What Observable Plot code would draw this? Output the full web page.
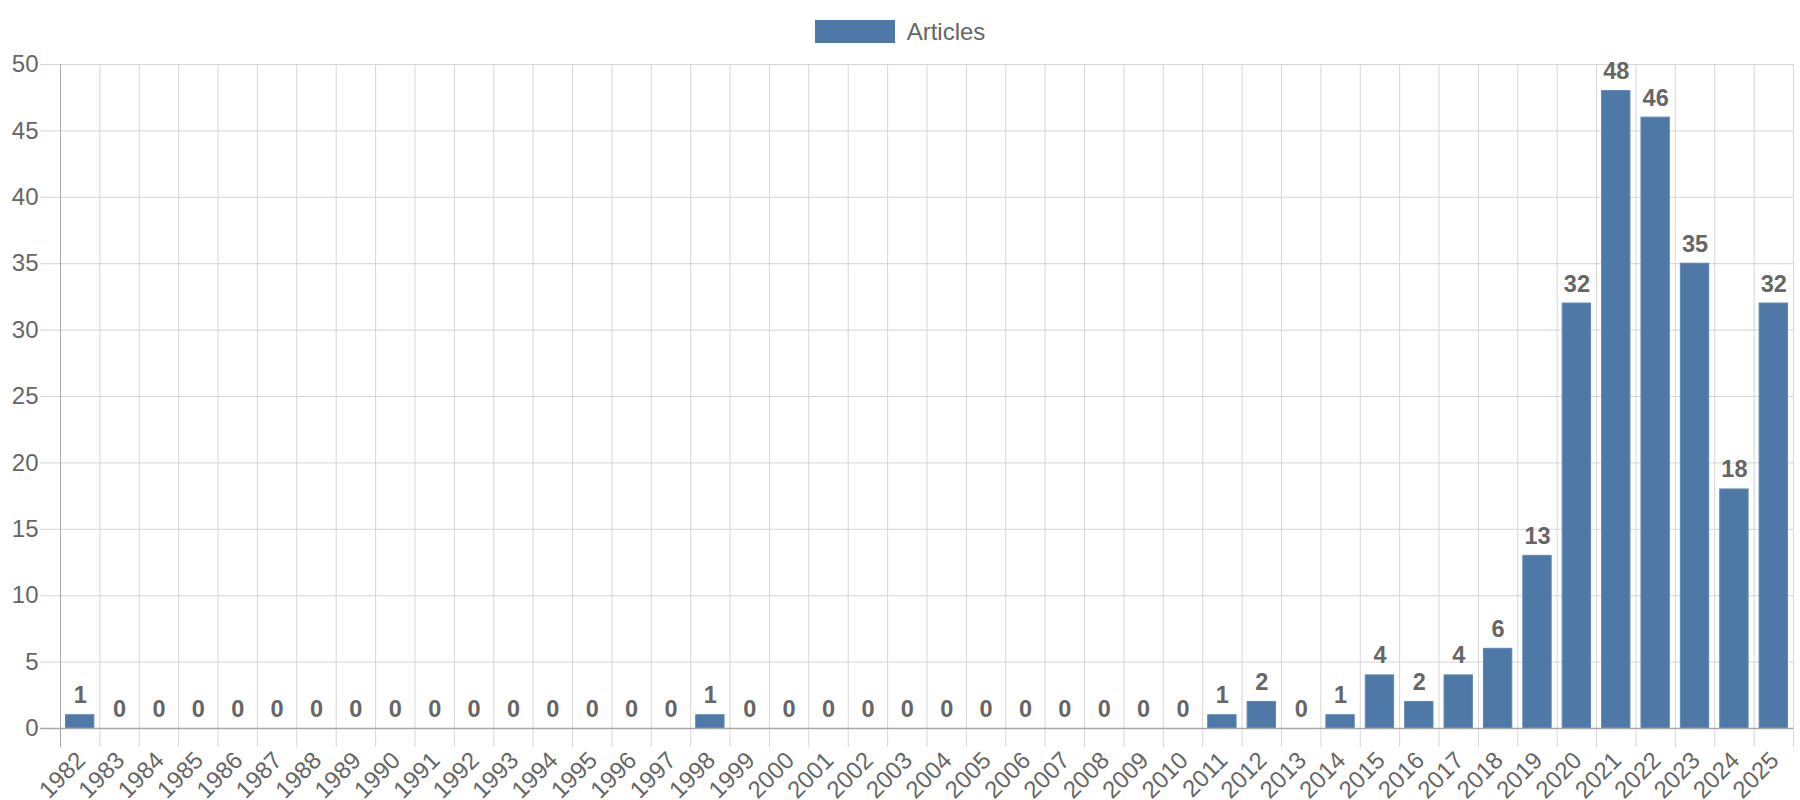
<!DOCTYPE html>
<html>
<head>
<meta charset="utf-8">
<script src="https://cdn.jsdelivr.net/npm/d3@7"></script>
<script src="https://cdn.jsdelivr.net/npm/@observablehq/plot@0.6"></script>
<style>
  html, body { margin: 0; padding: 0; background: #fff; }
  body { width: 1800px; height: 800px; overflow: hidden; font-family: "Liberation Sans", Arial, Helvetica, sans-serif; }
  #legend { height: 50px; box-sizing: border-box; padding-top: 20px; display: flex; justify-content: center; align-items: flex-start; gap: 12px; }
  #legend .sw { width: 80px; height: 23px; background: #4e79a7; }
  #legend .lb { font-size: 24px; line-height: 23px; color: #666; }
  #chart svg { display: block; }
</style>
</head>
<body>
<div id="legend"><div class="sw"></div><div class="lb">Articles</div></div>
<div id="chart"></div>
<script>
const seriesName = "Articles";
const years = [1982, 1983, 1984, 1985, 1986, 1987, 1988, 1989, 1990, 1991, 1992, 1993, 1994, 1995, 1996, 1997, 1998, 1999, 2000, 2001, 2002, 2003, 2004, 2005, 2006, 2007, 2008, 2009, 2010, 2011, 2012, 2013, 2014, 2015, 2016, 2017, 2018, 2019, 2020, 2021, 2022, 2023, 2024, 2025];
const articles = [1, 0, 0, 0, 0, 0, 0, 0, 0, 0, 0, 0, 0, 0, 0, 0, 1, 0, 0, 0, 0, 0, 0, 0, 0, 0, 0, 0, 0, 1, 2, 0, 1, 4, 2, 4, 6, 13, 32, 48, 46, 35, 18, 32];
const yTicks = [0, 5, 10, 15, 20, 25, 30, 35, 40, 45, 50];

const data = years.map((year, i) => ({year, count: articles[i]}));
const half = 0.5;
const barHalf = 0.36;
const boundaries = years.map(y => y - half).concat([years[years.length - 1] + half]);

const gridColor = "#d6d6d6";
const axisColor = "#a8a8a8";
const textColor = "#666";

const chart = Plot.plot({
  width: 1800,
  height: 750,
  marginTop: 14,
  marginLeft: 60,
  marginRight: 7,
  marginBottom: 72,
  style: {fontFamily: "'Liberation Sans', Arial, Helvetica, sans-serif", color: textColor, background: "#fff", overflow: "visible"},
  x: {type: "linear", domain: [years[0] - half, years[years.length - 1] + half]},
  y: {domain: [0, 50]},
  marks: [
    Plot.ruleY(yTicks.filter(d => d > 0), {y: d => d, stroke: gridColor, strokeWidth: 1, insetLeft: -20}),
    Plot.ruleX(boundaries.slice(1), {x: d => d, stroke: gridColor, strokeWidth: 1, insetBottom: -19}),
    Plot.ruleX([boundaries[0]], {x: d => d, stroke: axisColor, strokeWidth: 1, insetBottom: -19}),
    Plot.rectY(data, {x1: d => d.year - barHalf, x2: d => d.year + barHalf, y: "count", fill: "#4e79a7", stroke: "#5f88b3", strokeWidth: 1}),
    Plot.ruleY([0], {y: d => d, stroke: axisColor, strokeWidth: 1.5, insetLeft: -20}),
    Plot.text(data, {x: "year", y: "count", text: d => String(d.count), dy: -12, lineAnchor: "bottom", fontWeight: "bold", fontSize: 23.5, fill: textColor}),
    Plot.axisY({ticks: yTicks, tickSize: 0, tickPadding: 22, fontSize: 24, tickFormat: d => String(d), label: null}),
    Plot.axisX({ticks: years, tickSize: 0, tickPadding: 28, dx: 1, tickRotate: -45, fontSize: 24, tickFormat: d => String(d), label: null})
  ]
});
document.getElementById("chart").appendChild(chart);
</script>
</body>
</html>
